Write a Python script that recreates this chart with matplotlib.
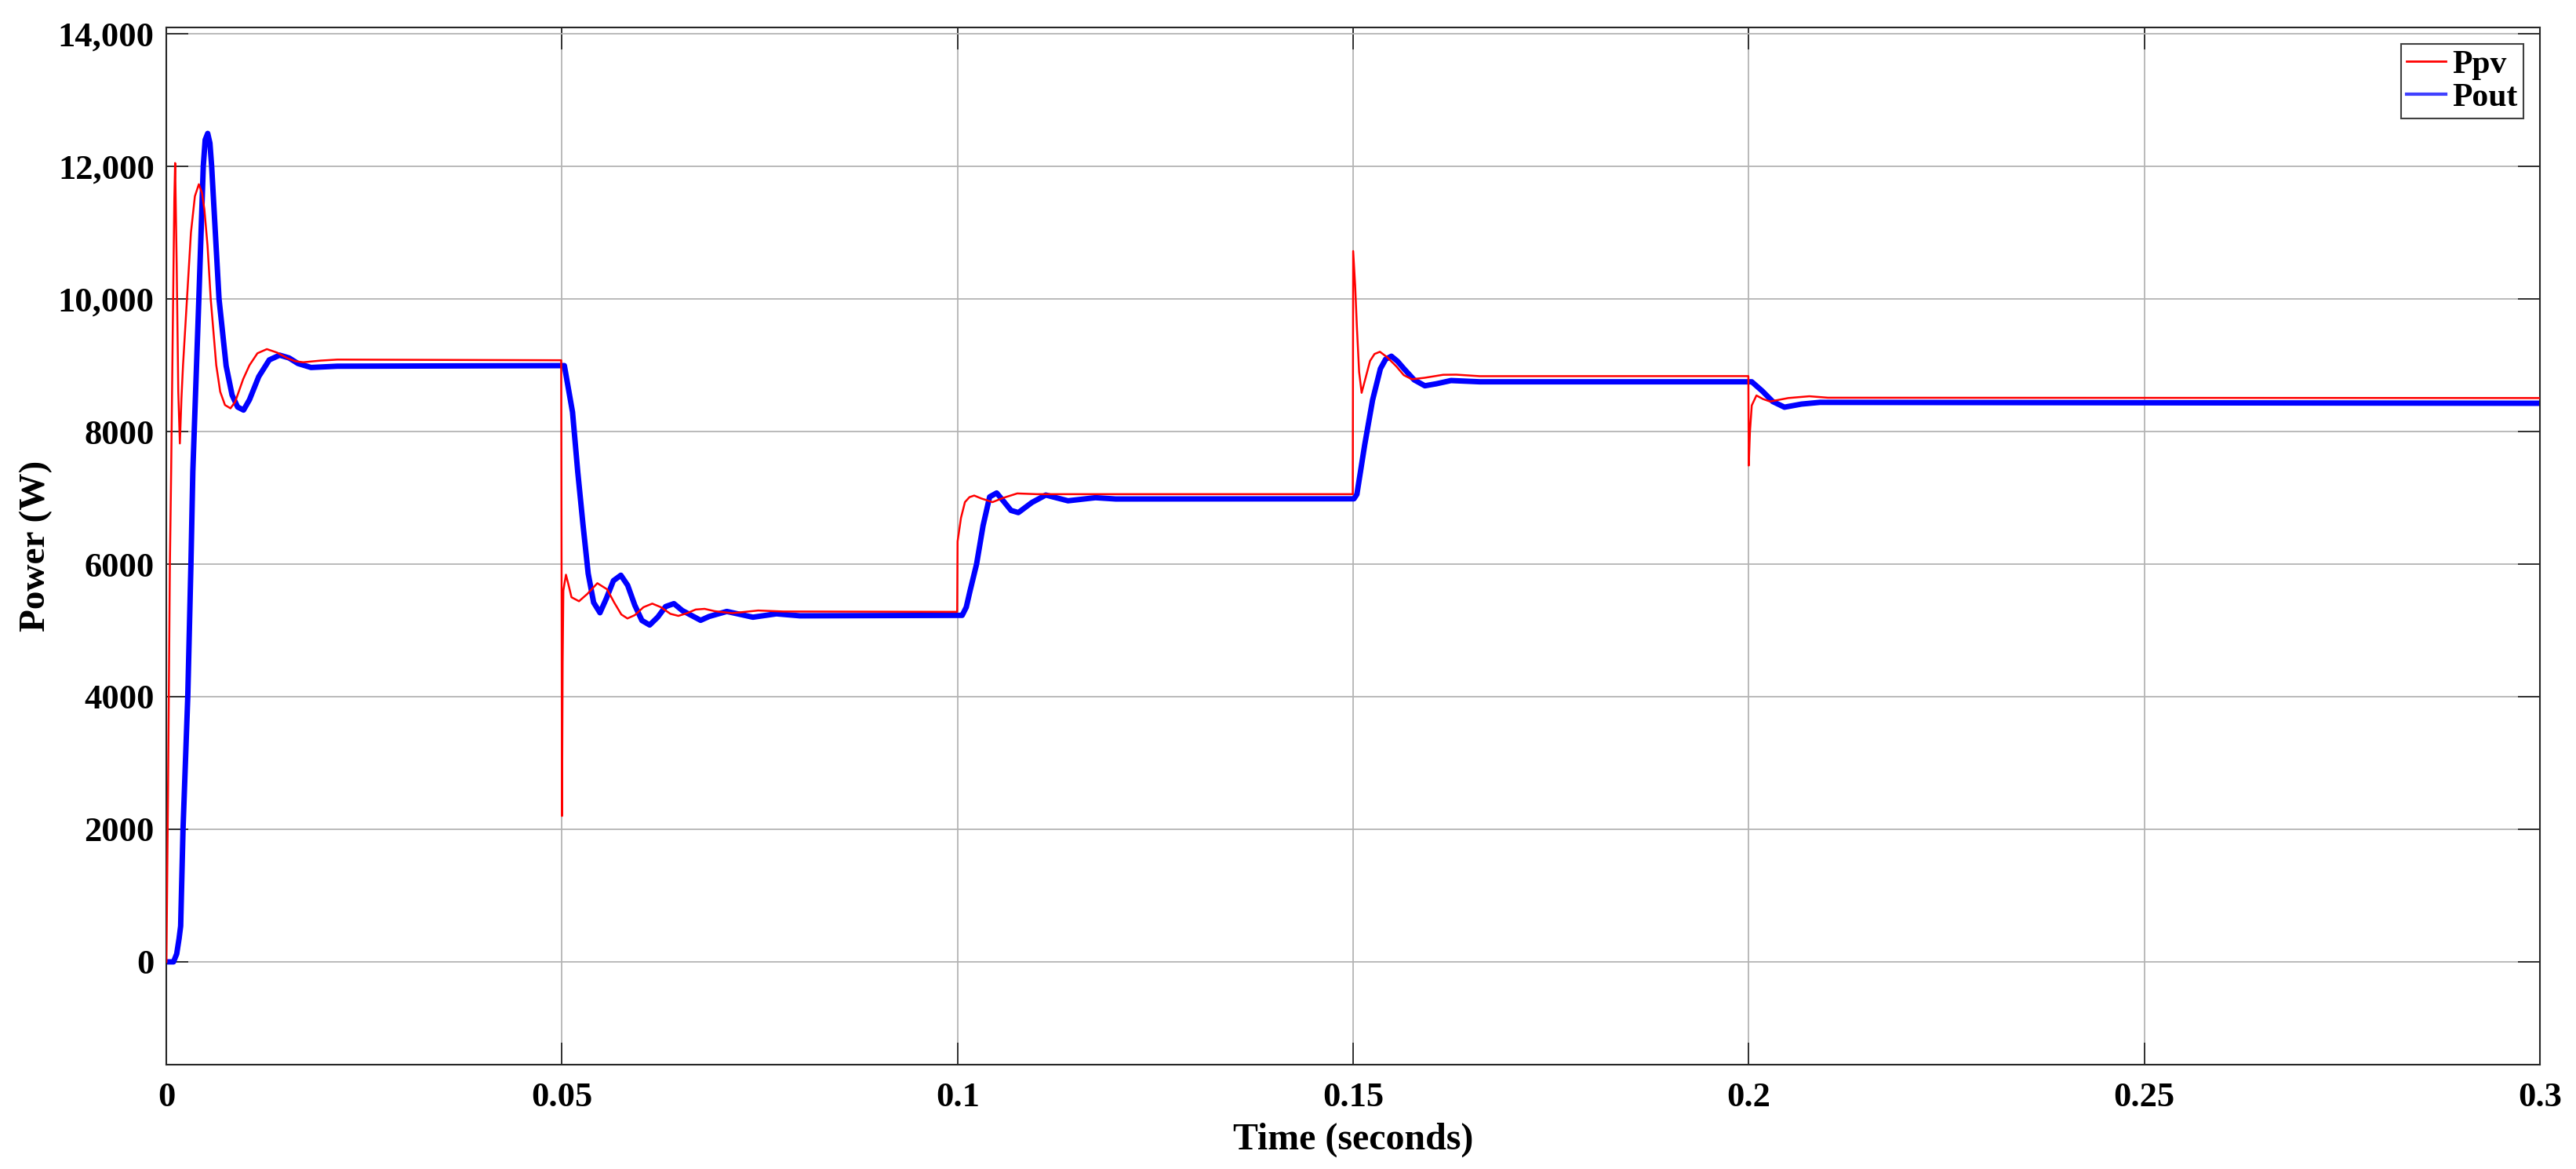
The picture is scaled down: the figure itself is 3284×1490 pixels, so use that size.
import matplotlib
matplotlib.use("Agg")
import matplotlib.pyplot as plt
from matplotlib.lines import Line2D

plt.rcParams['font.family'] = ['Liberation Serif', 'DejaVu Serif']
plt.rcParams['font.weight'] = 'bold'

# ---- data ----
t_ppv = [0, 0.0002, 0.00044, 0.0006, 0.0008, 0.0010, 0.0011, 0.0013, 0.0015, 0.0017,
         0.0019, 0.0021, 0.0026, 0.0031, 0.0036, 0.0041, 0.0045, 0.0048, 0.0052, 0.0056,
         0.0063, 0.0068, 0.0074, 0.0081, 0.0087, 0.0092, 0.0097, 0.0105, 0.0115, 0.0127,
         0.0140, 0.0153, 0.0163, 0.0173, 0.0195, 0.0216, 0.0499,
         0.0500, 0.05008, 0.05017, 0.0505, 0.0508, 0.0512, 0.05215, 0.0532, 0.05447,
         0.0557, 0.0566, 0.0575, 0.05827, 0.0592, 0.0603, 0.06141, 0.0625, 0.0637,
         0.06471, 0.0658, 0.0669, 0.06802, 0.0693, 0.07149, 0.0748, 0.0780, 0.09995,
         0.1000, 0.10043, 0.10093, 0.1015, 0.1021, 0.1030, 0.10441, 0.1058, 0.10754,
         0.1100, 0.14995,
         0.1500, 0.15025, 0.15047, 0.15075, 0.15107, 0.15155, 0.15213, 0.1527, 0.15338,
         0.1543, 0.15543, 0.1564, 0.15741, 0.1590, 0.16138, 0.16303, 0.1660, 0.19995,
         0.2000, 0.20015, 0.20038, 0.20097, 0.2018, 0.20269, 0.2050, 0.20766, 0.2100, 0.3000]
p_ppv = [0, 2500, 6000, 7400, 9500, 11500, 12050, 10500, 8600, 7820,
         8500, 9000, 10000, 11000, 11550, 11730, 11600, 11350, 10800, 10000,
         9000, 8600, 8400, 8350, 8450, 8620, 8790, 9000, 9180, 9243,
         9190, 9105, 9060, 9045, 9070, 9085, 9075,
         2200, 4500, 5600, 5840, 5700, 5500, 5440, 5550, 5712,
         5620, 5420, 5240, 5180, 5230, 5350, 5404, 5350, 5250,
         5219, 5260, 5315, 5325, 5290, 5260, 5300, 5285, 5280,
         6343, 6698, 6935, 7010, 7034, 6990, 6935, 7000, 7066,
         7055, 7055,
         10722, 10200, 9578, 8900, 8584, 8800, 9065, 9170, 9203,
         9120, 8986, 8850, 8789, 8810, 8856, 8858, 8835, 8836,
         7487, 8000, 8394, 8544, 8490, 8453, 8505, 8532, 8510, 8505]

t_pout = [0, 0.0009, 0.0013, 0.0016, 0.0018, 0.0021, 0.0027, 0.0031, 0.00334, 0.0041,
          0.00466, 0.0049, 0.00522, 0.0055, 0.00572, 0.00665, 0.00755, 0.0083, 0.0090,
          0.00975, 0.0105, 0.01167, 0.0130, 0.01431, 0.0155, 0.01663, 0.01828, 0.0216,
          0.0503, 0.05133, 0.05199, 0.05265, 0.05331, 0.0540, 0.0548, 0.0556, 0.0565,
          0.05744, 0.0583, 0.0592, 0.0601, 0.06108, 0.0621, 0.0631, 0.06415, 0.0652,
          0.06752, 0.0686, 0.07083, 0.07413, 0.0771, 0.08007, 0.1004,
          0.10058, 0.1011, 0.10157, 0.1024, 0.10322, 0.10405, 0.10494, 0.1058, 0.10675,
          0.10768, 0.1094, 0.11115, 0.1125, 0.11396, 0.11743, 0.1200, 0.1501,
          0.15047, 0.15146, 0.15245, 0.15344, 0.1541, 0.15483, 0.1556, 0.15642, 0.1577,
          0.15906, 0.1605, 0.16237, 0.1660, 0.20038,
          0.2017, 0.20302, 0.20451, 0.20666, 0.209, 0.3000]
p_pout = [0, 0, 120, 350, 540, 2000, 4000, 6000, 7400, 10000,
          12000, 12400, 12497, 12350, 12000, 10000, 8990, 8550, 8370,
          8323, 8480, 8828, 9080, 9152, 9110, 9026, 8966, 8985,
          8994, 8293, 7393, 6600, 5858, 5420, 5266, 5480, 5750,
          5832, 5680, 5380, 5150, 5081, 5200, 5360, 5404, 5300,
          5152, 5210, 5286, 5199, 5250, 5220, 5227,
          5227, 5350, 5594, 6000, 6580, 7014, 7073, 6950, 6810,
          6777, 6930, 7042, 7000, 6955, 7002, 6982, 6985,
          7053, 7802, 8473, 8947, 9090, 9136, 9060, 8947, 8780,
          8690, 8720, 8769, 8750, 8750,
          8612, 8453, 8367, 8414, 8440, 8426]

x_ticks = [0, 0.05, 0.1, 0.15, 0.2, 0.25, 0.3]
x_tick_labels = ['0', '0.05', '0.1', '0.15', '0.2', '0.25', '0.3']
y_ticks = [0, 2000, 4000, 6000, 8000, 10000, 12000, 14000]
y_tick_labels = ['0', '2000', '4000', '6000', '8000', '10,000', '12,000', '14,000']
series_names = ['Ppv', 'Pout']

# ---- figure ----
fig = plt.figure(figsize=(32.84, 14.90), dpi=100)
ax = fig.add_axes([0.0646, 0.0893, 0.9214, 0.8872])

ax.plot(t_ppv, p_ppv, color='#FF0000', linewidth=1.8, zorder=3)
ax.plot(t_pout, p_pout, color='#0000FF', linewidth=5.0, zorder=2)

ax.set_xlim(0, 0.3)
ax.set_ylim(-1550, 14095)
ax.set_xticks(x_ticks)
ax.set_xticklabels(x_tick_labels)
ax.set_yticks(y_ticks)
ax.set_yticklabels(y_tick_labels)

ax.grid(True, color='#b4b4b4', linewidth=1.3)
ax.set_axisbelow(True)
ax.tick_params(direction='in', length=20, width=1.3, color='#262626',
               top=True, right=True, labelsize=32)
ax.tick_params(axis='x', pad=16)
ax.tick_params(axis='y', pad=11)
for lab in ax.get_xticklabels() + ax.get_yticklabels():
    lab.set_fontweight('bold')
for sp in ax.spines.values():
    sp.set_color('#262626')
    sp.set_linewidth(1.5)

ax.set_xlabel('Time (seconds)', fontsize=34.5, fontweight='bold', labelpad=8)
ax.set_ylabel('Power (W)', fontsize=34, fontweight='bold', labelpad=5)

handles = [Line2D([0], [0], color='#FF0000', linewidth=2.0),
           Line2D([0], [0], color='#4040FF', linewidth=3.0)]
leg = ax.legend(handles, series_names, loc='upper right',
                prop={'weight': 'bold', 'size': 30},
                frameon=True, fancybox=False, shadow=False,
                handlelength=1.2, handletextpad=0.2, borderpad=0.18,
                labelspacing=0.1, borderaxespad=0.5)
leg.get_frame().set_edgecolor('#404040')
leg.get_frame().set_linewidth(1.5)
leg.get_frame().set_alpha(1.0)

fig.savefig('out.png', dpi=100, facecolor='white')
